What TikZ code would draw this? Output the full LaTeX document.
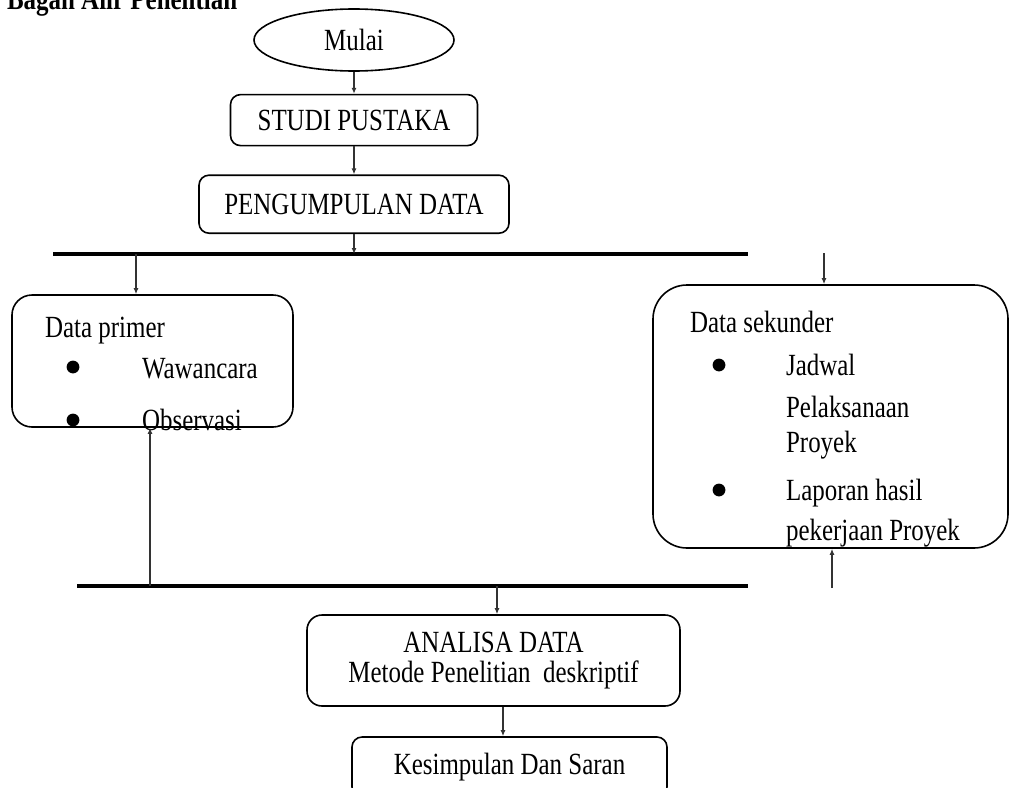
\documentclass[tikz,border=0pt]{standalone}
\usepackage{fontspec}
\setmainfont{Liberation Serif}[FakeStretch=0.81]
\usetikzlibrary{shapes.geometric,arrows.meta,positioning}

\tikzset{
  kotak/.style={draw, rounded corners=5pt, line width=0.8pt, align=center},
  panah/.style={-{Latex[length=3pt,width=2.5pt]}, line width=0.7pt, black!80},
  garis/.style={line width=2pt},
  isi/.style={anchor=base west},
}

\begin{document}
\begin{tikzpicture}[x=0.5pt, y=-0.5pt, font=\fontsize{15.4}{15}\selectfont]
   \useasboundingbox (0,0) rectangle (1010,787);
   \node[isi, font=\fontsize{15.4}{15}\selectfont\bfseries] (judul) at (0,10) {Bagan Alir Penelitian};

   \node[draw, ellipse, line width=0.8pt, minimum width=100pt, minimum height=31pt] (mulai) at (354,40) {Mulai};
   \node[kotak, minimum width=123.5pt, minimum height=25.5pt] (studi) [below=11pt of mulai] {STUDI PUSTAKA};
   \node[kotak, minimum width=155pt, minimum height=29pt] (kumpul) [below=14pt of studi] {PENGUMPULAN DATA};

   % garis cabang
   \coordinate (atasKiri) at (53,254);
   \coordinate (atasKanan) at (748,254);
   \coordinate (bawahKiri) at (77,586);
   \coordinate (bawahKanan) at (748,586);
   \draw[garis] (atasKiri) -- (atasKanan);
   \draw[garis] (bawahKiri) -- (bawahKanan);

   % data primer
   \node[kotak, rounded corners=10pt, minimum width=140.5pt, minimum height=66pt] (primer) at (152.5,361) {};
   \node[isi] (primerJudul) at (38,337) {Data primer};
   \node[isi] (wawancara) at (135,378) {Wawancara};
   \node[isi] (observasi) at (135,430) {Observasi};
   \fill (73,367) circle (3.2pt);
   \fill (73,420) circle (3.2pt);

   % data sekunder
   \node[kotak, rounded corners=17pt, minimum width=177.5pt, minimum height=131.5pt] (sekunder) at (830.5,416.5) {};
   \node[isi] (sekunderJudul) at (683,332) {Data sekunder};
   \node[isi] (jadwal) at (779,375) {Jadwal};
   \node[isi] (pelaksanaan) at (779,417) {Pelaksanaan};
   \node[isi] (proyek) at (779,452) {Proyek};
   \node[isi] (laporan) at (779,500) {Laporan hasil};
   \node[isi] (pekerjaan) at (779,540) {pekerjaan Proyek};
   \fill (719,365) circle (3.2pt);
   \fill (719,490) circle (3.2pt);

   % analisa
   \node[kotak, rounded corners=7.5pt, minimum width=186.5pt, minimum height=45.5pt] (analisa) at (493.5,660.5) {ANALISA DATA\\Metode Penelitian\ \ deskriptif};
   \node[kotak, minimum width=157.5pt, minimum height=30pt] (simpulan) at (509.5,767) {Kesimpulan Dan Saran};

   % panah
   \coordinate (cabangPrimer) at (136,254);
   \coordinate (naikPrimer) at (150,586);
   \coordinate (masukSekunder) at (824,253);
   \coordinate (keluarSekunder) at (832,588);
   \coordinate (keAnalisa) at (497,586);
   \coordinate (sumbuBawah) at (503,0);
   \draw[panah] (mulai) -- (studi);
   \draw[panah] (studi) -- (kumpul);
   \draw[panah] (kumpul) -- (kumpul |- atasKiri);
   \draw[panah] (cabangPrimer) -- (cabangPrimer |- primer.north);
   \draw[panah] (naikPrimer) -- (naikPrimer |- primer.south);
   \draw[panah] (masukSekunder) -- (masukSekunder |- sekunder.north);
   \draw[panah] (keluarSekunder) -- (keluarSekunder |- sekunder.south);
   \draw[panah] (keAnalisa) -- (keAnalisa |- analisa.north);
   \draw[panah] (analisa.south -| sumbuBawah) -- (simpulan.north -| sumbuBawah);
\end{tikzpicture}
\end{document}
